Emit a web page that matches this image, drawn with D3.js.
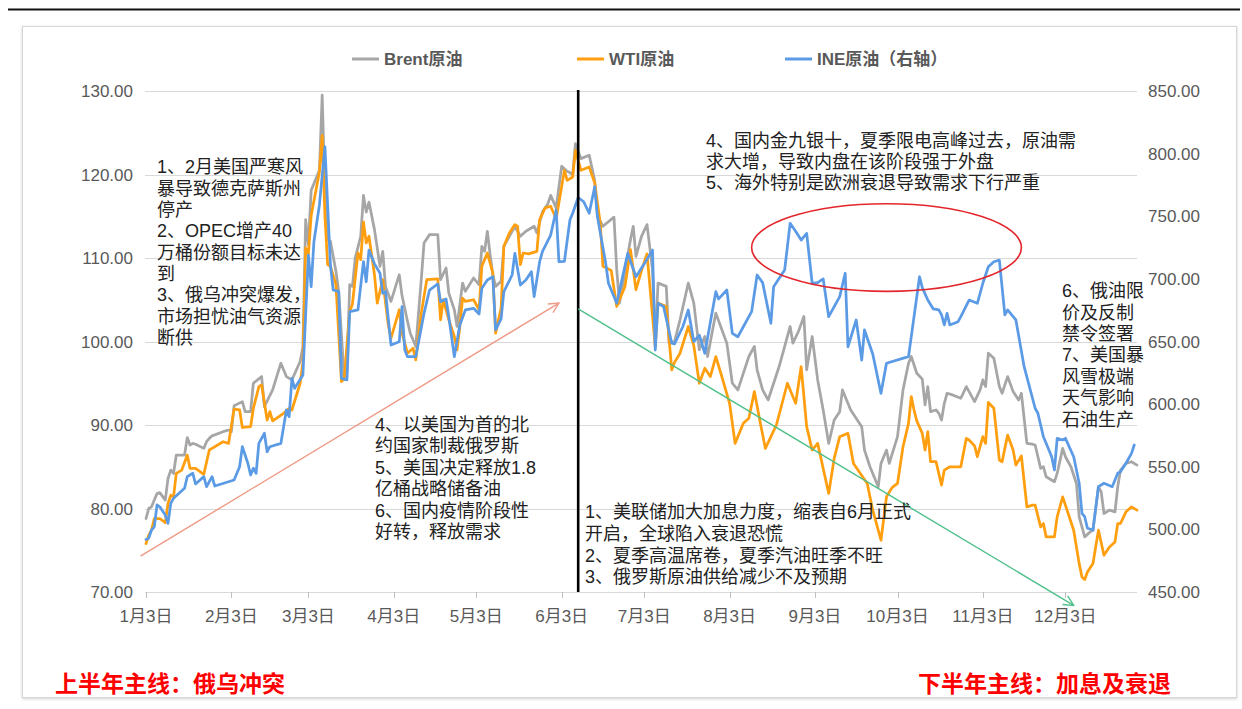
<!DOCTYPE html>
<html>
<head>
<meta charset="utf-8">
<script src="https://cdn.jsdelivr.net/npm/d3@7"></script>
<style>
  html, body { margin: 0; padding: 0; background: #fff; }
  svg { display: block; }
</style>
</head>
<body>
<svg id="chart" width="1242" height="709"></svg>
<script>
// ---- Data: 2022 crude oil prices (Brent / WTI in USD, INE in CNY, right axis) ----
const brent = [
  ["01-03",78.8],["01-04",80.0],["01-05",80.2],["01-07",81.8],["01-08",81.9],["01-10",81.0],["01-11",83.6],["01-12",84.6],["01-13",84.2],["01-14",86.4],
  ["01-17",86.4],["01-18",88.5],["01-19",87.6],["01-20",87.8],["01-21",87.7],["01-24",87.2],["01-25",88.0],["01-26",88.4],["01-27",88.7],["01-31",89.2],
  ["02-02",89.4],["02-03",89.2],["02-04",92.3],["02-07",92.8],["02-08",91.6],["02-10",91.6],["02-11",95.0],["02-14",95.8],["02-15",92.2],["02-18",94.2],
  ["02-21",97.4],["02-23",95.8],["02-25",95.4],["02-28",97.6],["03-01",99.4],["03-02",114.6],["03-03",111.6],["03-04",118.1],["03-07",120.5],["03-08",129.5],
  ["03-09",118.0],["03-10",112.2],["03-11",112.0],["03-13",108.4],["03-14",106.0],["03-16",95.6],["03-17",96.4],["03-18",106.8],["03-19",106.6],["03-20",110.0],
  ["03-22",112.6],["03-23",117.5],["03-24",115.5],["03-25",116.7],["03-27",113.4],["03-29",109.0],["03-30",110.8],["03-31",106.6],["04-02",104.8],["04-05",108.0],
  ["04-06",105.5],["04-08",102.4],["04-09",101.0],["04-11",99.4],["04-13",107.4],["04-14",111.8],["04-16",112.8],["04-19",112.8],["04-20",107.4],["04-22",108.8],
  ["04-23",105.8],["04-25",103.8],["04-26",101.8],["04-28",107.0],["04-29",106.0],["05-02",107.6],["05-04",106.8],["05-05",111.4],["05-06",110.8],["05-07",113.2],
  ["05-08",110.4],["05-09",108.0],["05-10",106.6],["05-12",107.2],["05-13",111.4],["05-15",112.6],["05-17",113.8],["05-19",112.6],["05-21",113.2],["05-24",113.8],
  ["05-25",113.0],["05-27",115.5],["05-29",116.5],["05-30",117.5],["06-01",116.0],["06-03",121.0],["06-05",120.4],["06-07",120.0],["06-08",123.7],["06-10",121.9],
  ["06-13",122.3],["06-15",119.3],["06-16",115.0],["06-18",113.8],["06-22",114.9],["06-23",108.6],["06-24",104.6],["06-28",112.2],["06-29",113.8],["06-30",110.2],
  ["07-02",112.6],["07-04",114.0],["07-06",108.6],["07-07",99.4],["07-08",107.0],["07-11",106.6],["07-12",99.8],["07-14",100.0],["07-16",102.6],["07-19",107.0],
  ["07-21",104.6],["07-23",99.0],["07-25",100.6],["07-26",98.2],["07-29",103.4],["08-02",99.8],["08-04",95.0],["08-06",94.2],["08-07",95.2],["08-10",98.2],
  ["08-12",99.4],["08-13",96.6],["08-15",94.2],["08-17",93.0],["08-21",97.0],["08-25",101.8],["08-26",99.8],["08-28",101.2],["08-30",103.0],["08-31",96.6],
  ["09-02",100.6],["09-04",95.4],["09-06",91.8],["09-08",87.8],["09-10",90.6],["09-12",91.6],["09-13",94.2],["09-16",91.8],["09-20",89.8],["09-21",87.0],
  ["09-23",85.0],["09-25",83.4],["09-26",82.6],["09-27",85.4],["09-29",87.0],["09-30",85.4],["10-03",88.6],["10-05",94.2],["10-07",97.4],["10-08",98.2],
  ["10-10",96.2],["10-12",95.5],["10-13",92.4],["10-14",94.6],["10-15",91.6],["10-17",91.8],["10-18",91.4],["10-19",90.6],["10-20",92.6],["10-21",93.8],
  ["10-23",93.6],["10-26",93.2],["10-28",94.6],["10-29",94.0],["10-31",92.8],["11-02",94.2],["11-03",95.4],["11-04",94.6],["11-05",98.6],["11-07",98.0],
  ["11-09",94.6],["11-10",93.8],["11-12",95.8],["11-14",94.0],["11-16",93.0],["11-17",93.8],["11-19",87.8],["11-21",87.7],["11-22",87.6],["11-24",84.8],
  ["11-25",85.0],["11-26",83.8],["11-29",83.2],["11-30",84.2],["12-02",87.2],["12-03",86.2],["12-05",85.0],["12-07",83.0],["12-08",79.0],["12-10",76.6],
  ["12-12",77.2],["12-13",77.4],["12-15",82.6],["12-16",82.0],["12-17",79.4],["12-19",79.8],["12-21",79.6],["12-22",82.6],["12-23",84.6],["12-25",85.4],
  ["12-27",85.6],["12-29",85.2]
];

const wti = [
  ["01-03",75.8],["01-04",76.8],["01-05",77.4],["01-06",78.8],["01-08",78.8],["01-10",78.3],["01-11",80.6],["01-12",81.6],["01-13",81.4],["01-14",84.2],
  ["01-16",84.6],["01-18",86.4],["01-19",84.8],["01-21",84.8],["01-24",84.1],["01-26",87.0],["01-27",87.2],["01-31",88.0],["02-02",87.8],["02-04",91.9],
  ["02-06",91.8],["02-07",89.7],["02-10",89.8],["02-11",92.0],["02-13",94.6],["02-14",94.8],["02-16",90.6],["02-17",91.6],["02-18",90.5],["02-22",91.4],
  ["02-24",92.0],["02-25",91.8],["02-28",95.0],["03-01",97.5],["03-02",111.2],["03-03",110.5],["03-04",115.1],["03-07",120.3],["03-08",124.7],["03-09",115.0],
  ["03-10",109.2],["03-11",109.0],["03-13",106.8],["03-15",95.2],["03-16",95.5],["03-18",103.6],["03-19",104.5],["03-21",110.6],["03-22",109.8],["03-23",114.3],
  ["03-24",111.8],["03-25",112.6],["03-27",108.0],["03-28",104.6],["03-30",107.4],["04-01",102.0],["04-02",100.4],["04-05",103.8],["04-06",101.0],["04-08",98.6],
  ["04-10",99.2],["04-11",97.8],["04-13",103.4],["04-15",107.4],["04-19",107.5],["04-20",102.6],["04-21",105.0],["04-23",102.6],["04-25",100.6],["04-26",99.0],
  ["04-27",101.8],["04-28",105.2],["04-29",104.8],["05-02",105.0],["05-04",103.8],["05-05",109.0],["05-07",110.6],["05-09",108.2],["05-10",101.0],["05-12",104.0],
  ["05-13",111.4],["05-15",113.0],["05-17",114.0],["05-18",113.8],["05-19",109.2],["05-20",110.6],["05-22",110.5],["05-25",110.8],["05-26",114.6],["05-28",116.0],
  ["05-30",116.2],["06-01",114.7],["06-04",120.5],["06-05",119.3],["06-07",119.7],["06-08",122.9],["06-10",120.5],["06-13",120.9],["06-15",119.0],["06-17",114.2],
  ["06-18",109.0],["06-21",108.5],["06-23",104.2],["06-26",106.6],["06-28",111.0],["06-30",106.2],["07-02",108.5],["07-04",110.5],["07-07",99.4],["07-08",104.6],
  ["07-11",104.2],["07-13",96.6],["07-14",97.5],["07-16",98.6],["07-19",101.8],["07-21",99.5],["07-23",95.0],["07-25",96.8],["07-27",95.8],["07-29",98.2],
  ["07-31",96.0],["08-03",92.6],["08-05",87.8],["08-08",90.2],["08-10",90.8],["08-12",94.0],["08-14",90.5],["08-16",87.2],["08-20",90.0],["08-24",95.0],
  ["08-27",92.6],["08-29",97.0],["08-31",89.8],["09-02",87.0],["09-04",87.8],["09-08",81.8],["09-10",86.0],["09-12",88.6],["09-15",89.0],["09-17",85.4],
  ["09-22",83.0],["09-24",79.8],["09-27",76.2],["09-29",81.4],["10-01",82.5],["10-03",83.0],["10-05",87.4],["10-07",90.2],["10-08",93.4],["10-09",91.8],
  ["10-10",90.5],["10-12",89.0],["10-13",87.0],["10-14",89.2],["10-15",85.6],["10-17",85.6],["10-19",82.8],["10-20",84.6],["10-22",85.0],["10-26",85.0],
  ["10-28",88.4],["10-29",88.2],["10-31",87.5],["11-01",86.2],["11-03",88.6],["11-04",87.8],["11-05",92.7],["11-07",92.0],["11-09",85.8],["11-10",85.6],
  ["11-12",88.8],["11-14",87.0],["11-15",85.2],["11-17",86.3],["11-19",80.2],["11-21",80.4],["11-22",80.4],["11-24",77.8],["11-25",78.2],["11-26",76.6],
  ["11-29",76.6],["11-30",79.0],["12-02",81.4],["12-04",79.4],["12-06",77.4],["12-08",73.4],["12-09",71.8],["12-10",71.5],["12-11",72.4],["12-13",73.4],
  ["12-15",77.4],["12-17",74.4],["12-19",75.4],["12-21",76.0],["12-22",78.2],["12-23",78.2],["12-25",79.6],["12-27",80.2],["12-29",79.8]
];

const ine = [
  ["01-03",492],["01-04",493],["01-05",499.5],["01-06",502],["01-07",519.5],["01-08",518],["01-10",511.5],["01-11",504.8],["01-12",520.8],["01-13",524.8],
  ["01-17",532.8],["01-18",542.1],["01-20",544.8],["01-21",536.2],["01-24",542.1],["01-25",534.1],["01-27",542.1],["01-28",534.6],["02-04",539.4],["02-06",550],
  ["02-07",566],["02-09",552.8],["02-10",543.4],["02-11",548.8],["02-12",544.8],["02-13",568.7],["02-15",576.7],["02-16",562],["02-17",566],["02-21",568.7],
  ["02-23",595.3],["02-24",590],["02-25",620.6],["02-26",612.6],["03-01",623.3],["03-03",719],["03-04",693.8],["03-05",729.7],["03-07",759],["03-09",805.5],
  ["03-11",711],["03-12",691.1],["03-14",689.8],["03-15",620.6],["03-17",619.3],["03-18",673.8],["03-21",675.2],["03-23",713.7],["03-24",697.7],["03-25",723],
  ["03-27",712],["03-29",704.5],["03-30",688.5],["03-31",690],["04-02",647.2],["04-05",649.8],["04-06",677.8],["04-07",643.2],["04-08",637.9],["04-11",637.9],
  ["04-14",672.5],["04-16",691.1],["04-19",696],["04-20",681.8],["04-22",684],["04-23",669.8],["04-25",637.9],["04-27",663.2],["04-29",675.2],["05-02",676.5],
  ["05-04",672],["05-05",692.5],["05-07",699.1],["05-09",701.7],["05-10",659.2],["05-12",668],["05-13",689.8],["05-16",703.1],["05-17",720.4],["05-19",695.1],
  ["05-21",699.1],["05-23",705.7],["05-24",685.8],["05-26",713.7],["05-27",721.7],["05-30",735],["06-01",755],["06-02",713.7],["06-04",714],["06-06",747],
  ["06-07",752.4],["06-09",765],["06-11",761.6],["06-13",752.4],["06-15",773.6],["06-16",749.6],["06-19",712.4],["06-20",696.5],["06-23",680.5],["06-27",720.4],
  ["06-30",701.7],["07-03",712],["07-06",723],["07-07",643.2],["07-08",680.5],["07-10",678],["07-13",648.6],["07-14",648],["07-17",661.8],["07-19",675.2],
  ["07-21",650],["07-23",655],["07-25",640.6],["07-29",689.8],["07-30",684],["08-02",691.1],["08-04",656.5],["08-06",653.8],["08-11",673.8],["08-13",703.1],
  ["08-15",697],["08-18",664.5],["08-19",693.8],["08-23",707.1],["08-25",744.4],["08-27",738],["08-29",731],["08-31",736.3],["09-02",696.5],["09-04",697],
  ["09-06",700],["09-08",669.8],["09-12",685.8],["09-14",704.5],["09-15",645.8],["09-18",667.2],["09-20",635.2],["09-21",659.2],["09-24",640],["09-27",608.6],
  ["09-29",632.6],["10-07",637.9],["10-11",701.7],["10-12",693],["10-14",683.1],["10-16",676],["10-18",675.2],["10-19",671.2],["10-20",663.2],["10-21",672.5],
  ["10-22",663.2],["10-25",665.8],["10-26",669.8],["10-29",683.1],["11-01",680.5],["11-03",696.5],["11-05",709.7],["11-07",713.7],["11-09",715],["11-11",671.2],
  ["11-12",675.2],["11-15",667.2],["11-18",629.9],["11-22",596.7],["11-23",592.7],["11-25",574],["11-26",568.7],["11-28",558],["11-29",547.4],["11-30",572.7],
  ["12-02",571.4],["12-03",572.7],["12-06",558],["12-08",536.8],["12-09",512.8],["12-10",510.1],["12-11",500.9],["12-13",499.5],["12-15",534.1],["12-17",536.8],
  ["12-20",534.1],["12-22",544.8],["12-23",546],["12-25",552.8],["12-27",560.7],["12-28",567.4]
];

const leftTicks  = [70, 80, 90, 100, 110, 120, 130];
const rightTicks = [450, 500, 550, 600, 650, 700, 750, 800, 850];
const monthTicks = ["01-03","02-03","03-03","04-03","05-03","06-03","07-03","08-03","09-03","10-03","11-03","12-03"];
const monthLabels = ["1月3日","2月3日","3月3日","4月3日","5月3日","6月3日","7月3日","8月3日","9月3日","10月3日","11月3日","12月3日"];
const seriesNames = ["Brent原油", "WTI原油", "INE原油（右轴）"];

// ---- Annotation texts ----
const noteUpLeft = ["1、2月美国严寒风","暴导致德克萨斯州","停产","2、OPEC增产40","万桶份额目标未达","到","3、俄乌冲突爆发，","市场担忧油气资源","断供"];
const noteUpMid  = ["4、以美国为首的北","约国家制裁俄罗斯","5、美国决定释放1.8","亿桶战略储备油","6、国内疫情阶段性","好转，释放需求"];
const noteDown   = ["1、美联储加大加息力度，缩表自6月正式","开启，全球陷入衰退恐慌","2、夏季高温席卷，夏季汽油旺季不旺","3、俄罗斯原油供给减少不及预期"];
const noteTop    = ["4、国内金九银十，夏季限电高峰过去，原油需","求大增，导致内盘在该阶段强于外盘","5、海外特别是欧洲衰退导致需求下行严重"];
const noteRight  = ["6、俄油限","价及反制","禁令签署","7、美国暴","风雪极端","天气影响","石油生产"];
const mainLineH1 = "上半年主线：俄乌冲突";
const mainLineH2 = "下半年主线：加息及衰退";

// ---- Setup ----
const parse = d3.timeParse("%Y-%m-%d");
const day = s => parse("2022-" + s);
const FONT = "'Liberation Sans', Arial, 'Noto Sans CJK SC', sans-serif";
const CJK_BOLD = "'Liberation Sans', 'Noto Sans CJK SC', sans-serif";

const svg = d3.select("#chart");
const plot = { left: 146, right: 1137, top: 91, bottom: 592 };

const x  = d3.scaleTime().domain([day("01-03"), day("12-29")]).range([plot.left, plot.right]);
const yL = d3.scaleLinear().domain([70, 130]).range([plot.bottom, plot.top]);
const yR = d3.scaleLinear().domain([450, 850]).range([plot.bottom, plot.top]);

const colors = { brent: "#a6a6a6", wti: "#ff9f0f", ine: "#5b9be6" };

// background
svg.append("rect").attr("width", 1242).attr("height", 709).attr("fill", "#fff");

// header rule
svg.append("line").attr("x1", 8).attr("x2", 1240).attr("y1", 9.5).attr("y2", 9.5)
  .attr("stroke", "#111").attr("stroke-width", 2);

// panel with soft shadow
const defs = svg.append("defs");
const f = defs.append("filter").attr("id", "shadow").attr("x", "-2%").attr("y", "-2%").attr("width", "104%").attr("height", "104%");
f.append("feDropShadow").attr("dx", 0).attr("dy", 1).attr("stdDeviation", 1.5).attr("flood-color", "#000").attr("flood-opacity", 0.18);
svg.append("rect").attr("x", 22.5).attr("y", 26.5).attr("width", 1214).attr("height", 671)
  .attr("fill", "#fff").attr("stroke", "#d6d6d6").attr("filter", "url(#shadow)");

// gridlines
svg.append("g").selectAll("line").data(leftTicks).join("line")
  .attr("x1", plot.left - 1).attr("x2", plot.right)
  .attr("y1", d => Math.round(yL(d)) + 0.5).attr("y2", d => Math.round(yL(d)) + 0.5)
  .attr("stroke", "#d9d9d9").attr("stroke-width", 1);

// left axis labels
svg.append("g").selectAll("text").data(leftTicks).join("text")
  .attr("x", 133).attr("y", d => yL(d)).attr("dy", "0.36em")
  .attr("text-anchor", "end").attr("font-family", FONT).attr("font-size", 17).attr("fill", "#595959")
  .text(d => d3.format(".2f")(d));

// right axis labels
svg.append("g").selectAll("text").data(rightTicks).join("text")
  .attr("x", 1148).attr("y", d => yR(d)).attr("dy", "0.36em")
  .attr("text-anchor", "start").attr("font-family", FONT).attr("font-size", 17).attr("fill", "#595959")
  .text(d => d3.format(".2f")(d));

// x ticks + labels
const xt = svg.append("g");
xt.selectAll("line").data(monthTicks).join("line")
  .attr("x1", d => Math.round(x(day(d))) + 0.5).attr("x2", d => Math.round(x(day(d))) + 0.5)
  .attr("y1", plot.bottom).attr("y2", plot.bottom + 6).attr("stroke", "#bfbfbf");
xt.selectAll("text").data(monthTicks).join("text")
  .attr("x", d => x(day(d))).attr("y", 616).attr("dy", "0.36em")
  .attr("text-anchor", "middle").attr("font-family", FONT).attr("font-size", 17).attr("fill", "#595959")
  .text((d, i) => monthLabels[i]);

// series lines
const lineL = d3.line().x(d => x(day(d[0]))).y(d => yL(d[1]));
const lineR = d3.line().x(d => x(day(d[0]))).y(d => yR(d[1]));
const drawSeries = (data, gen, color) => svg.append("path").datum(data)
  .attr("d", gen).attr("fill", "none").attr("stroke", color)
  .attr("stroke-width", 2.75).attr("stroke-linejoin", "round").attr("stroke-linecap", "round");
drawSeries(brent, lineL, colors.brent);
drawSeries(wti, lineL, colors.wti);
drawSeries(ine, lineR, colors.ine);

// mid-year divider
svg.append("line")
  .attr("x1", x(day("06-09"))).attr("x2", x(day("06-09")))
  .attr("y1", plot.top - 1).attr("y2", plot.bottom)
  .attr("stroke", "#000").attr("stroke-width", 2.6);

// trend arrows
function arrowMarker(id, color) {
  const m = defs.append("marker").attr("id", id)
    .attr("viewBox", "0 0 12 12").attr("refX", 11).attr("refY", 6)
    .attr("markerWidth", 12).attr("markerHeight", 12).attr("markerUnits", "userSpaceOnUse")
    .attr("orient", "auto");
  m.append("path").attr("d", "M1,1 L11,6 L1,11").attr("fill", "none")
    .attr("stroke", color).attr("stroke-width", 1.4);
}
arrowMarker("arrUp", "#ef9a86");
arrowMarker("arrDown", "#4fc08c");

const trendUp   = { from: ["2022-01-01", 74.3], to: ["2022-06-02", 104.6] };
const trendDown = { from: ["2022-06-09", 103.9], to: ["2022-12-06", 68.4] };
function drawTrend(t, color, marker) {
  svg.append("line")
    .attr("x1", x(parse(t.from[0]))).attr("y1", yL(t.from[1]))
    .attr("x2", x(parse(t.to[0]))).attr("y2", yL(t.to[1]))
    .attr("stroke", color).attr("stroke-width", 1.4)
    .attr("marker-end", `url(#${marker})`);
}
drawTrend(trendUp, "#ef9a86", "arrUp");
drawTrend(trendDown, "#4fc08c", "arrDown");

// highlight ellipse around INE strength (Aug–Nov)
const hl = { x0: day("08-11"), x1: day("11-17"), v0: 106.0, v1: 116.5 };
svg.append("ellipse")
  .attr("cx", (x(hl.x0) + x(hl.x1)) / 2).attr("cy", (yL(hl.v0) + yL(hl.v1)) / 2)
  .attr("rx", (x(hl.x1) - x(hl.x0)) / 2).attr("ry", (yL(hl.v0) - yL(hl.v1)) / 2)
  .attr("fill", "none").attr("stroke", "#e3262b").attr("stroke-width", 1.6);

// annotation blocks
function block(lines, x0, y0, lh) {
  svg.append("g").selectAll("text").data(lines).join("text")
    .attr("x", x0).attr("y", (d, i) => y0 + i * lh).attr("dy", "0.36em")
    .attr("font-family", FONT).attr("font-size", 18).attr("fill", "#222")
    .text(d => d);
}
block(noteUpLeft, 157, 167, 21.3);
block(noteUpMid, 375, 424.5, 21.4);
block(noteDown, 585, 512, 21.6);
block(noteTop, 706, 141, 21);
block(noteRight, 1062, 290.8, 21.4);

// legend
const legendItems = [
  { name: seriesNames[0], color: colors.brent, x: 352 },
  { name: seriesNames[1], color: colors.wti, x: 577 },
  { name: seriesNames[2], color: colors.ine, x: 785 }
];
const lg = svg.append("g");
legendItems.forEach(it => {
  lg.append("line").attr("x1", it.x).attr("x2", it.x + 27).attr("y1", 59).attr("y2", 59)
    .attr("stroke", it.color).attr("stroke-width", 3);
  lg.append("text").attr("x", it.x + 32).attr("y", 59).attr("dy", "0.36em")
    .attr("font-family", CJK_BOLD).attr("font-weight", "bold").attr("font-size", 17)
    .attr("fill", "#595959").text(it.name);
});

// half-year headlines
svg.append("text").attr("x", 55).attr("y", 684).attr("dy", "0.36em")
  .attr("font-family", "'Noto Sans CJK SC', sans-serif").attr("font-weight", "bold")
  .attr("font-size", 23).attr("fill", "#ff0000").text(mainLineH1);
svg.append("text").attr("x", 918).attr("y", 684).attr("dy", "0.36em")
  .attr("font-family", "'Noto Sans CJK SC', sans-serif").attr("font-weight", "bold")
  .attr("font-size", 23).attr("fill", "#ff0000").text(mainLineH2);
</script>
</body>
</html>
